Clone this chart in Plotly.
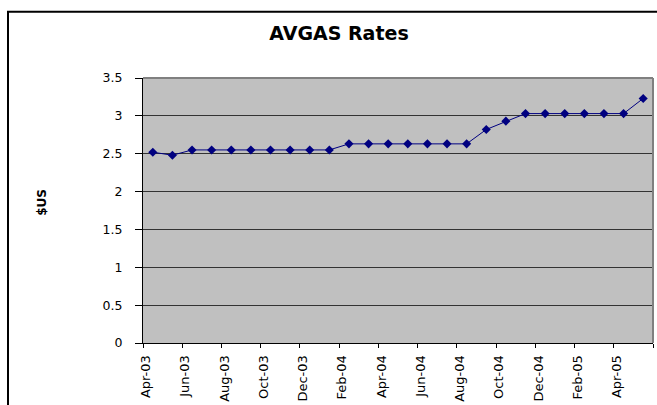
import plotly.graph_objects as go

# ---- data ----
months = ["Apr-03", "May-03", "Jun-03", "Jul-03", "Aug-03", "Sep-03", "Oct-03", "Nov-03",
          "Dec-03", "Jan-04", "Feb-04", "Mar-04", "Apr-04", "May-04", "Jun-04", "Jul-04",
          "Aug-04", "Sep-04", "Oct-04", "Nov-04", "Dec-04", "Jan-05", "Feb-05", "Mar-05",
          "Apr-05", "May-05"]
rates = [2.52, 2.48, 2.55, 2.55, 2.55, 2.55, 2.55, 2.55,
         2.55, 2.55, 2.63, 2.63, 2.63, 2.63, 2.63, 2.63,
         2.63, 2.82, 2.93, 3.03, 3.03, 3.03, 3.03, 3.03,
         3.03, 3.23]
tick_labels = ["Apr-03", "Jun-03", "Aug-03", "Oct-03", "Dec-03", "Feb-04", "Apr-04",
               "Jun-04", "Aug-04", "Oct-04", "Dec-04", "Feb-05", "Apr-05"]
y_ticks = [0, 0.5, 1, 1.5, 2, 2.5, 3, 3.5]
y_tick_text = ["0", "0.5", "1", "1.5", "2", "2.5", "3", "3.5"]

# category positions (centered in each month slot)
xpos = [i + 0.5 for i in range(len(months))]
tick_pos = [months.index(t) for t in tick_labels] + [len(months)]
tick_txt = tick_labels + [""]

FONT = "DejaVu Sans"
W, H = 657, 405
L, R, T, B = 143, 4, 78, 61.5
pw, ph = W - L - R, H - T - B

fig = go.Figure()
fig.add_trace(go.Scatter(
    x=xpos, y=rates, customdata=months, mode="lines+markers",
    line=dict(color="#000080", width=1),
    marker=dict(symbol="diamond", size=7, color="#000080"),
    hovertemplate="%{customdata}: %{y}<extra></extra>",
))

fig.update_layout(
    width=W, height=H,
    margin=dict(l=L, r=R, t=T, b=B, pad=0, autoexpand=False),
    paper_bgcolor="white",
    plot_bgcolor="#C0C0C0",
    showlegend=False,
    font=dict(family=FONT, color="black", size=12),
    title=dict(text="<b>AVGAS Rates</b>", x=339 / W, xref="container", xanchor="center",
               y=1 - 33.5 / H, yref="container", yanchor="middle",
               font=dict(family=FONT, size=19, color="black")),
)

fig.update_xaxes(
    range=[0, len(months)], tickmode="array", tickvals=tick_pos, ticktext=tick_txt,
    tickangle=-90, ticks="outside", ticklen=4, tickcolor="black", tickwidth=1,
    ticklabelshift=3, ticklabelstandoff=2,
    showgrid=False, zeroline=False, showline=True, linecolor="black", linewidth=1,
    tickfont=dict(family=FONT, size=13, color="black"), fixedrange=True,
)
fig.update_yaxes(
    range=[0, 3.5], tickmode="array", tickvals=y_ticks, ticktext=y_tick_text,
    ticks="outside", ticklen=7, tickcolor="black", tickwidth=1, ticklabelstandoff=10,
    showgrid=True, gridcolor="#333333", gridwidth=1, zeroline=False,
    showline=True, linecolor="black", linewidth=1,
    tickfont=dict(family=FONT, size=12.5, color="black"), fixedrange=True,
)

# plot-area border (top/right gray)
fig.add_shape(type="line", xref="paper", yref="paper", x0=0, x1=1, y0=1, y1=1,
              line=dict(color="#808080", width=2))
fig.add_shape(type="line", xref="paper", yref="paper", x0=1, x1=1, y0=0, y1=1,
              line=dict(color="#808080", width=2))

# outer chart border (extends off canvas to right and bottom)
bx0 = (8 - L) / pw
by1 = (H - B - 11.5) / ph
fig.add_shape(type="rect", xref="paper", yref="paper",
              x0=bx0, x1=(W + 20 - L) / pw, y0=(H - B - (H + 20)) / ph, y1=by1,
              line=dict(color="black", width=2), fillcolor="rgba(0,0,0,0)", layer="below")

# y axis title
fig.add_annotation(text="<b>$US</b>", xref="paper", yref="paper",
                   x=(42 - L) / pw, y=(H - B - 203) / ph, textangle=-90,
                   showarrow=False, xanchor="center", yanchor="middle",
                   font=dict(family=FONT, size=12, color="black"))

fig.write_html("out.html", config={"displayModeBar": False},
               post_script="document.body.style.margin='0';document.body.style.overflow='hidden';")
